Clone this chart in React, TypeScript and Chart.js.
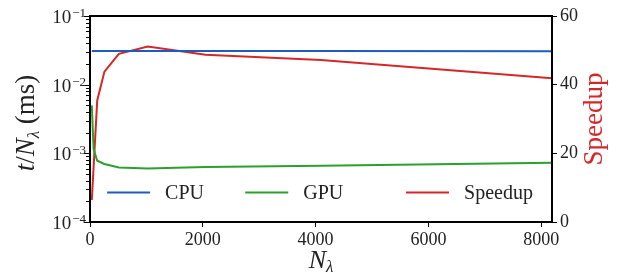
import React, { useEffect, useRef } from "react";
import { Chart, registerables } from "chart.js";

Chart.register(...registerables);

const N = [32, 64, 128, 256, 512, 1024, 2048, 4096, 8192];
const cpuTime = [0.031, 0.031, 0.031, 0.031, 0.031, 0.031, 0.031, 0.0308, 0.0306];
const gpuTime = [0.005, 0.00115, 0.00078, 0.0007, 0.00062, 0.0006, 0.00063, 0.00066, 0.00073];
const speedup = [6.4, 16, 35.4, 43.8, 49, 51.1, 48.7, 47.2, 41.9];
const xTicks = [0, 2000, 4000, 6000, 8000];
const leftTickExp = [-4, -3, -2, -1];
const rightTicks = [0, 20, 40, 60];
const seriesNames = ["CPU", "GPU", "Speedup"];

const BLUE = "#1f5bbf";
const GREEN = "#2ca02c";
const RED = "#d62728";
const SERIF = "'Liberation Serif', 'DejaVu Serif', serif";

const pts = (ys: number[]) => N.map((n, i) => ({ x: n, y: ys[i] }));

const overlay = {
  id: "overlay",
  afterDraw(chart: any) {
    const ctx = chart.ctx as CanvasRenderingContext2D;
    const a = chart.chartArea;
    const y = chart.scales.y;
    ctx.save();
    // frame
    ctx.strokeStyle = "#000";
    ctx.lineWidth = 2;
    ctx.strokeRect(a.left, a.top, a.right - a.left, a.bottom - a.top);

    // left log ticks
    ctx.lineWidth = 1;
    for (let e = -4; e <= -1; e++) {
      for (let m = 1; m <= 9; m++) {
        const v = m * Math.pow(10, e);
        if (v > 0.1 + 1e-12) break;
        const py = Math.round(y.getPixelForValue(v)) + 0.5;
        const len = m === 1 ? 5 : 3;
        ctx.beginPath();
        ctx.moveTo(a.left - 1, py);
        ctx.lineTo(a.left - 1 - len, py);
        ctx.stroke();
      }
    }
    // left labels 10^e
    ctx.fillStyle = "#222";
    ctx.textBaseline = "alphabetic";
    leftTickExp.forEach((e) => {
      const py = y.getPixelForValue(Math.pow(10, e));
      ctx.font = `13px ${SERIF}`;
      ctx.textAlign = "right";
      const sup = "\u2212" + Math.abs(e);
      const supW = ctx.measureText(sup).width;
      const right = a.left - 4;
      ctx.fillText(sup, right, py + 1);
      ctx.font = `19px ${SERIF}`;
      ctx.fillText("10", right - supW - 1, py + 7);
    });

    // left title t/N_λ (ms)
    ctx.save();
    ctx.translate(34, (a.top + a.bottom) / 2 + 4);
    ctx.rotate(-Math.PI / 2);
    const parts: [string, string, number][] = [
      ["t", "italic 27px", 0],
      ["/", "27px", 0],
      ["N", "italic 27px", 0],
      ["\u03bb", "italic 17px", 5],
      [" (ms)", "27px", 0],
    ];
    let total = 0;
    parts.forEach(([t, f]) => {
      ctx.font = `${f} ${SERIF}`;
      total += ctx.measureText(t).width;
    });
    let cx = -total / 2;
    ctx.textAlign = "left";
    ctx.fillStyle = "#222";
    parts.forEach(([t, f, dy]) => {
      ctx.font = `${f} ${SERIF}`;
      ctx.fillText(t, cx, dy);
      cx += ctx.measureText(t).width;
    });
    ctx.restore();

    // bottom title N_λ
    ctx.font = `italic 26px ${SERIF}`;
    const nW = ctx.measureText("N").width;
    ctx.font = `italic 17px ${SERIF}`;
    const lW = ctx.measureText("\u03bb").width;
    const bx = (a.left + a.right) / 2 - (nW + lW) / 2;
    ctx.textAlign = "left";
    ctx.font = `italic 26px ${SERIF}`;
    ctx.fillText("N", bx, 268);
    ctx.font = `italic 17px ${SERIF}`;
    ctx.fillText("\u03bb", bx + nW, 272);

    // right title
    ctx.save();
    ctx.translate(602, (a.top + a.bottom) / 2);
    ctx.rotate(-Math.PI / 2);
    ctx.font = `27px ${SERIF}`;
    ctx.fillStyle = RED;
    ctx.textAlign = "center";
    ctx.fillText("Speedup", 0, 0);
    ctx.restore();

    // legend
    const colors = [BLUE, GREEN, RED];
    const xs = [0.037, 0.336, 0.684];
    const ly = a.top + (a.bottom - a.top) * 0.857;
    ctx.font = `20px ${SERIF}`;
    ctx.textAlign = "left";
    ctx.textBaseline = "middle";
    seriesNames.forEach((name, i) => {
      const x0 = a.left + (a.right - a.left) * xs[i];
      ctx.strokeStyle = colors[i];
      ctx.lineWidth = 2;
      ctx.beginPath();
      ctx.moveTo(x0, ly);
      ctx.lineTo(x0 + 43, ly);
      ctx.stroke();
      ctx.fillStyle = "#222";
      ctx.fillText(name, x0 + 58, ly + 1);
    });
    ctx.restore();
  },
};

export default function App() {
  const ref = useRef<HTMLCanvasElement>(null);
  useEffect(() => {
    if (!ref.current) return;
    const chart = new Chart(ref.current, {
      type: "line",
      data: {
        datasets: [
          { label: "CPU", data: pts(cpuTime), borderColor: BLUE, borderWidth: 2, pointRadius: 0, yAxisID: "y", tension: 0 },
          { label: "GPU", data: pts(gpuTime), borderColor: GREEN, borderWidth: 2, pointRadius: 0, yAxisID: "y", tension: 0 },
          { label: "Speedup", data: pts(speedup), borderColor: RED, borderWidth: 2, pointRadius: 0, yAxisID: "y1", tension: 0 },
        ],
      },
      plugins: [overlay],
      options: {
        animation: false,
        responsive: false,
        layout: { padding: { top: 16, left: 0, right: 0, bottom: 0 } },
        plugins: { legend: { display: false }, tooltip: { enabled: false } },
        scales: {
          x: {
            type: "linear",
            min: 0,
            max: 8192,
            afterBuildTicks: (s: any) => {
              s.ticks = xTicks.map((v) => ({ value: v }));
            },
            afterFit: (s: any) => {
              s.height = 54;
            },
            ticks: {
              font: { family: SERIF, size: 18 },
              color: "#222",
              padding: 2,
              maxRotation: 0,
              callback: (v: any) => String(v),
            },
            grid: { drawOnChartArea: false, drawTicks: true, tickLength: 5, color: "#000" },
            border: { display: true, color: "#000", width: 2 },
          },
          y: {
            type: "logarithmic",
            position: "left",
            min: 1e-4,
            max: 1e-1,
            afterFit: (s: any) => {
              s.width = 90;
            },
            ticks: { display: false },
            grid: { display: false },
            border: { display: true, color: "#000", width: 2 },
          },
          y1: {
            type: "linear",
            position: "right",
            min: 0,
            max: 60,
            afterBuildTicks: (s: any) => {
              s.ticks = rightTicks.map((v) => ({ value: v }));
            },
            afterFit: (s: any) => {
              s.width = 66;
            },
            ticks: { font: { family: SERIF, size: 18 }, color: "#222", padding: 3 },
            grid: { drawOnChartArea: false, drawTicks: true, tickLength: 5, color: "#000" },
            border: { display: true, color: "#000", width: 2 },
          },
        },
      },
    });
    return () => chart.destroy();
  }, []);
  return (
    <div style={{ position: "fixed", left: 0, top: 0, width: 618, height: 276, background: "#fff" }}>
      <canvas ref={ref} width={618} height={276} />
    </div>
  );
}
